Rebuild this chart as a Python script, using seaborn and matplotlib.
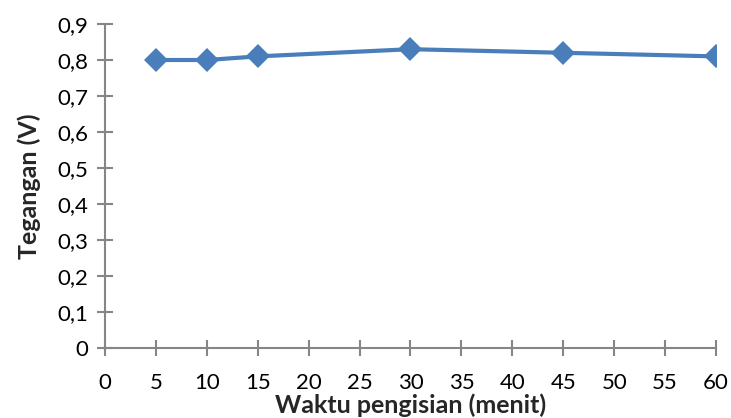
import matplotlib
matplotlib.use("Agg")
import matplotlib.pyplot as plt
import matplotlib.ticker as mticker
import seaborn as sns
import pandas as pd

# data
waktu = [5, 10, 15, 30, 45, 60]
tegangan = [0.80, 0.80, 0.81, 0.83, 0.82, 0.81]

df = pd.DataFrame({"waktu": waktu, "tegangan": tegangan})

sns.set_style("white")
plt.rcParams["font.family"] = ["Lato", "DejaVu Sans"]

fig = plt.figure(figsize=(7.31, 4.18), dpi=100)
ax = fig.add_axes([0.1436, 0.1675, 0.8359, 0.7751])

sns.lineplot(data=df, x="waktu", y="tegangan", ax=ax, color="#4a7ebb",
             linewidth=3, marker="D", markersize=12, markeredgewidth=0)

ax.set_xlim(0, 60)
ax.set_ylim(0, 0.9)
ax.xaxis.set_major_locator(mticker.MultipleLocator(5))
ax.yaxis.set_major_locator(mticker.MultipleLocator(0.1))
ax.yaxis.set_major_formatter(mticker.FuncFormatter(
    lambda v, p: "0" if abs(v) < 1e-9 else f"{v:.1f}".replace(".", ",")))

for s in ["top", "right"]:
    ax.spines[s].set_visible(False)
for s in ["left", "bottom"]:
    ax.spines[s].set_color("#868686")
    ax.spines[s].set_linewidth(1.5)

ax.tick_params(axis="both", bottom=True, left=True, direction="inout",
               length=12, width=1.5, color="#868686", labelsize=16,
               labelcolor="black", pad=6)
ax.tick_params(axis="x", pad=12)

ax.set_xlabel("Waktu pengisian (menit)", fontsize=18, fontweight="bold", labelpad=0)
ax.set_ylabel("Tegangan (V)", fontsize=18, fontweight="bold", labelpad=12)

fig.savefig("out.png", dpi=100)
